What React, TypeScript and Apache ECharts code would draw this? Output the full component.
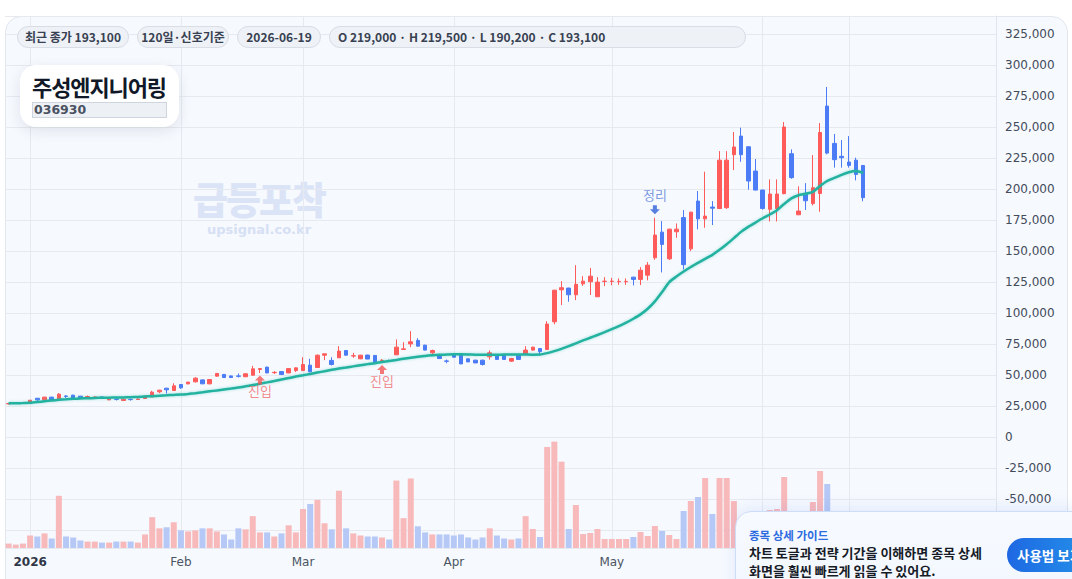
import React, { useEffect, useRef } from 'react';
import * as echarts from 'echarts';

// ---------- data ----------
const decDays = [26, 29, 30];
const janDays = [2, 5, 6, 7, 8, 9, 12, 13, 14, 15, 16, 19, 20, 21, 22, 23, 26, 27, 28, 29, 30];
const febDays = [2, 3, 4, 5, 6, 9, 10, 11, 12, 13, 19, 20, 23, 24, 25, 26, 27];
const marDays = [3, 4, 5, 6, 9, 10, 11, 12, 13, 16, 17, 18, 19, 20, 23, 24, 25, 26, 27, 30, 31];
const aprDays = [1, 2, 3, 6, 7, 8, 9, 10, 13, 14, 15, 16, 17, 20, 21, 22, 23, 24, 27, 28, 29, 30];
const mayDays = [1, 4, 5, 6, 7, 8, 11, 12, 13, 14, 15, 18, 19, 20, 21, 22, 25, 26, 27, 28, 29];
const junDays = [1, 2, 3, 4, 5, 8, 9, 10, 11, 12, 15, 16, 17, 18, 19];

const two = (n: number) => (n < 10 ? '0' + n : '' + n);
const tradingDates: string[] = [
  ...decDays.map((d) => `2025-12-${two(d)}`),
  ...janDays.map((d) => `2026-01-${two(d)}`),
  ...febDays.map((d) => `2026-02-${two(d)}`),
  ...marDays.map((d) => `2026-03-${two(d)}`),
  ...aprDays.map((d) => `2026-04-${two(d)}`),
  ...mayDays.map((d) => `2026-05-${two(d)}`),
  ...junDays.map((d) => `2026-06-${two(d)}`),
];
const emptySlots = 18;

// tick labels on the date axis (the June one lies under the guide box)
const tickLabels: Record<string, string> = {
  '2026-01-02': '2026',
  '2026-02-02': 'Feb',
  '2026-03-03': 'Mar',
  '2026-04-01': 'Apr',
  '2026-05-01': 'May',
};
const extraGridDates = ['2026-06-01', '2026-06-17'];

// [open, high, low, close]
const ohlc: [number, number, number, number][] = [
  [26900, 27400, 26400, 27100], [27200, 27700, 27000, 27500], [27300, 27800, 27100, 27600],
  [27200, 30000, 27000, 29800], [31400, 31600, 29000, 30100], [30100, 32600, 30000, 32300],
  [32300, 32500, 29600, 29800], [30900, 35500, 30600, 34700], [33200, 33900, 31700, 32900],
  [33900, 34200, 31500, 31700], [33100, 33300, 31200, 31400], [31700, 33600, 31500, 32800],
  [31700, 32800, 31500, 32500], [32500, 32700, 31500, 31700], [30100, 30800, 29900, 30600],
  [30700, 31200, 29600, 30500], [29600, 30800, 29400, 30600], [30500, 31000, 29500, 30300],
  [30400, 31000, 30200, 30800], [31200, 33400, 31000, 33100], [32500, 37400, 32300, 36300],
  [36600, 38200, 35500, 37900], [39500, 39800, 35200, 38200], [37600, 43500, 37300, 41400],
  [42500, 42800, 39000, 39800], [43000, 44600, 42600, 44400], [44600, 48400, 44200, 47600],
  [46200, 46500, 42800, 43000], [43000, 46800, 42600, 46500], [49200, 51600, 48900, 51400],
  [50600, 50800, 48000, 48100], [49400, 49600, 48000, 48100], [49400, 51300, 48100, 49100],
  [48700, 51300, 48500, 51100], [50000, 57500, 49800, 55100], [54600, 55500, 51800, 55300],
  [56500, 56700, 51600, 51800], [52000, 53200, 51000, 52300], [52900, 53100, 50300, 50500],
  [51800, 55600, 51600, 55300], [53700, 56300, 52500, 55900], [53700, 64500, 53500, 58600],
  [58100, 63200, 52400, 52700], [56200, 66700, 56000, 66100], [66100, 67400, 62100, 67200],
  [61900, 64400, 57800, 58600], [64000, 73400, 63800, 69400], [69900, 70200, 65800, 66100],
  [65400, 68000, 64000, 65700], [63200, 66400, 62900, 66100], [66200, 66500, 62800, 63000],
  [65900, 66200, 59600, 59900], [61700, 63000, 60200, 62000], [61800, 62500, 60800, 61500],
  [66400, 78800, 66200, 72600], [70700, 76600, 70500, 71200], [75200, 85500, 72600, 76900],
  [78000, 79800, 73200, 73400], [74200, 74500, 70000, 70200], [68000, 70600, 66600, 69900],
  [66100, 66400, 63200, 63400], [61500, 62600, 59600, 61200], [66700, 67000, 64300, 64500],
  [66700, 67000, 58900, 59100], [63200, 63500, 60500, 60700], [62100, 62400, 59700, 59900],
  [62100, 62400, 57800, 58600], [64800, 70000, 62500, 68000], [65900, 66200, 62500, 62700],
  [65900, 66200, 62500, 62700], [61300, 64000, 60700, 63400], [65900, 66200, 62500, 62700],
  [67500, 73400, 67200, 70200], [70200, 73000, 69900, 72600], [71500, 71800, 66000, 69000],
  [70700, 93500, 70400, 91200], [93000, 118800, 91000, 118500], [118800, 125800, 106500, 120500],
  [120200, 120500, 109200, 114800], [114800, 138700, 110500, 123200], [123600, 129800, 122000, 125800],
  [125300, 136400, 114600, 129800], [113200, 129000, 113000, 125000], [125500, 129000, 121800, 125800],
  [125500, 128500, 122500, 125800], [125300, 128000, 122800, 125600], [125300, 128000, 122800, 125600],
  [129000, 129300, 122300, 127200], [127200, 137100, 122600, 134600], [130600, 141100, 126400, 138700],
  [144600, 176900, 143000, 162900], [165300, 174200, 132800, 155400], [143800, 168000, 142800, 167700],
  [165600, 172300, 160700, 167700], [177000, 183100, 135200, 139100], [151800, 181700, 150000, 181400],
  [190300, 198400, 167500, 176000], [176000, 214000, 168800, 178200], [185500, 190300, 171000, 184600],
  [184300, 230600, 184000, 223300], [185000, 230600, 184000, 223300], [227700, 246000, 215300, 233900],
  [242700, 249500, 222000, 227700], [234100, 234500, 199500, 206500], [214500, 224200, 199000, 199200],
  [199200, 199500, 183500, 184300], [183700, 207800, 173900, 196000], [184300, 207800, 173900, 196000],
  [196300, 254000, 195800, 250000], [228500, 232000, 208300, 209200], [179300, 202200, 179000, 182300],
  [196600, 204800, 183100, 190600], [188300, 227400, 186800, 201100], [196400, 253200, 181700, 245600],
  [266900, 282300, 228000, 229000], [236800, 244400, 217300, 223700], [226400, 239500, 217300, 225300],
  [221800, 242700, 217300, 219100], [223300, 225300, 207000, 211800], [219000, 219500, 190200, 193100],
];

// volume in thousand shares
const volumesK = [
  88, 68, 88, 250, 230, 292, 190, 1044, 230, 210,
  150, 129, 129, 108, 108, 129, 129, 129, 108, 271,
  617, 393, 414, 515, 353, 332, 353, 393, 393, 332,
  271, 170, 393, 373, 637, 312, 312, 230, 292, 454,
  312, 780, 881, 963, 495, 373, 1146, 393, 292, 250,
  230, 230, 210, 170, 1349, 597, 1390, 434, 312, 271,
  271, 271, 250, 271, 210, 170, 210, 393, 250, 190,
  170, 190, 637, 380, 220, 2020, 2127, 1727, 380, 860,
  280, 300, 380, 180, 180, 180, 180, 220, 320, 240,
  440, 340, 260, 180, 740, 940, 1020, 1400, 680, 1400,
  1400, 940, 600, 560, 500, 450, 760, 780, 1420, 600,
  400, 380, 920, 1540, 1280, 650, 400, 380, 420, 600,
];

// moving-average line (won)
const maLine = [
  27300, 27400, 27500, 27700, 28300, 29000, 29600, 30100, 30500, 30900,
  31200, 31400, 31600, 31800, 31900, 32000, 32100, 32300, 32500, 32800,
  33100, 33500, 33800, 34100, 34400, 34900, 35500, 36200, 37000, 37700,
  38500, 39200, 40000, 41000, 42000, 43100, 44200, 45300, 46500, 47700,
  48900, 49900, 51000, 52100, 53200, 54300, 55300, 56200, 57100, 58000,
  58900, 59700, 60700, 61500, 62300, 63200, 64000, 64800, 65500, 66000,
  66400, 66600, 66800, 66800, 66700, 66500, 66400, 66400, 66500, 66600,
  66700, 66700, 66600, 66500, 66600, 67800, 69400, 71200, 73400, 75700,
  78000, 80200, 82400, 84700, 87100, 89500, 92300, 95500, 99000, 103500,
  109500, 117000, 125000, 129500, 133500, 137200, 140500, 143800, 147000, 151000,
  155500, 160500, 165500, 169500, 173000, 176500, 179500, 183000, 188000, 192500,
  195000, 196200, 197800, 202500, 206500, 209000, 211500, 213500, 214500, 213000,
];

const entrySignals = [35, 52];
const exitSignals = [90];

const pills = [
  { text: '최근 종가 193,100', left: 17, width: 112 },
  { text: '120일·신호기준', left: 137, width: 92 },
  { text: '2026-06-19', left: 237, width: 84 },
  { text: 'O 219,000 · H 219,500 · L 190,200 · C 193,100', left: 329, width: 417, alignLeft: true },
];

const stockName = '주성엔지니어링';
const stockCode = '036930';

// ---------- styles ----------
const UP = '#ff5b5b';
const DOWN = '#4b7cf6';
const UP_VOL = '#f8b9bb';
const DOWN_VOL = '#b6c8f5';
const GRID = '#e6eaf0';
const KR = "'Noto Sans CJK KR', 'Noto Sans', sans-serif";

const arrowUp = 'path://M5,0 L10,5.5 L7,5.5 L7,10 L3,10 L3,5.5 L0,5.5 Z';
const arrowDown = 'path://M3,0 L7,0 L7,4.5 L10,4.5 L5,10 L0,4.5 L3,4.5 Z';

const fmt = (v: number) => v.toLocaleString('en-US');

function buildOption() {
  const categories = [
    ...tradingDates,
    ...Array.from({ length: emptySlots }, (_, k) => `slot-${k}`),
  ];
  const gridDates = [...Object.keys(tickLabels), ...extraGridDates];
  return {
    animation: false,
    textStyle: { fontFamily: "'DejaVu Sans', sans-serif" },
    grid: { left: 5, right: 76, top: 16, bottom: 31, containLabel: false, outerBoundsMode: 'none' },
    xAxis: {
      type: 'category',
      data: categories,
      boundaryGap: true,
      axisLine: { show: false },
      axisTick: { show: false },
      splitLine: { show: false },
      axisLabel: {
        interval: (_i: number, v: string) => tickLabels[v] !== undefined,
        formatter: (v: string) => {
          const t = tickLabels[v];
          if (t === undefined) return '';
          return /^\d{4}$/.test(t) ? `{y|${t}}` : t;
        },
        color: '#4b5563',
        fontSize: 12,
        margin: 8,
        rich: { y: { fontWeight: 'bold', color: '#2f3747', fontSize: 12 } },
      },
    },
    yAxis: [
      {
        type: 'value',
        position: 'right',
        min: -89300,
        max: 339500,
        minInterval: 25000,
        maxInterval: 25000,
        splitNumber: 17,
        axisLine: { show: true, lineStyle: { color: '#e1e6ee' } },
        axisTick: { show: false },
        axisLabel: {
          color: '#434b5b',
          fontSize: 12,
          margin: 9,
          formatter: (v: number) => (Math.abs(v % 25000) < 1e-6 ? fmt(v) : ''),
        },
        splitLine: { show: true, lineStyle: { color: GRID, width: 1 } },
      },
      { type: 'value', show: false, min: 0, max: 10640, splitLine: { show: false } },
    ],
    series: [
      {
        type: 'bar',
        name: '거래량',
        xAxisIndex: 0,
        yAxisIndex: 1,
        barWidth: 6,
        silent: true,
        z: 2,
        data: volumesK.map((v, i) => ({
          value: v,
          itemStyle: { color: ohlc[i][3] >= ohlc[i][0] ? UP_VOL : DOWN_VOL },
        })),
        markLine: {
          silent: true,
          z: 0,
          symbol: ['none', 'none'],
          label: { show: false },
          emphasis: { disabled: true },
          lineStyle: { color: GRID, width: 1, type: 'solid' },
          data: gridDates.map((d) => ({ xAxis: d })),
        },
      },
      {
        type: 'candlestick',
        name: '주가',
        z: 3,
        barWidth: 4,
        data: ohlc.map(([o, h, l, c]) => [o, c, l, h]),
        itemStyle: {
          color: UP,
          color0: DOWN,
          borderColor: UP,
          borderColor0: DOWN,
          borderWidth: 1,
        },
      },
      {
        type: 'line',
        name: '이동평균',
        z: 4,
        data: maLine,
        symbol: 'none',
        smooth: 0.2,
        lineStyle: {
          color: '#21b29f',
          width: 2.5,
          shadowColor: 'rgba(33,178,159,0.35)',
          shadowBlur: 3,
        },
      },
      {
        type: 'scatter',
        name: '진입',
        z: 5,
        symbol: arrowUp,
        symbolSize: [10, 9],
        symbolOffset: [0, 7],
        itemStyle: { color: '#f25656' },
        label: {
          show: true,
          position: 'bottom',
          distance: 0,
          formatter: '진입',
          color: '#f06d70',
          fontSize: 13,
          fontFamily: KR,
        },
        data: entrySignals.map((i) => [i, ohlc[i][2]]),
      },
      {
        type: 'scatter',
        name: '정리',
        z: 5,
        symbol: arrowDown,
        symbolSize: [10, 9],
        symbolOffset: [0, -8],
        itemStyle: { color: '#2f5fd9' },
        label: {
          show: true,
          position: 'top',
          distance: 4,
          formatter: '정리',
          color: '#5a7fd6',
          fontSize: 13,
          fontFamily: KR,
        },
        data: exitSignals.map((i) => [i, ohlc[i][1]]),
      },
    ],
  };
}

function Chart() {
  const ref = useRef<HTMLDivElement>(null);
  useEffect(() => {
    if (!ref.current) return;
    const chart = echarts.init(ref.current, null, { renderer: 'svg' });
    chart.setOption(buildOption() as any);
    return () => chart.dispose();
  }, []);
  return <div ref={ref} style={{ position: 'absolute', left: 0, top: 0, width: 1072, height: 579 }} />;
}

export default function App() {
  useEffect(() => {
    document.body.style.margin = '0';
  }, []);
  return (
    <div
      style={{
        position: 'fixed',
        left: 0,
        top: 0,
        width: 1072,
        height: 579,
        overflow: 'hidden',
        background: '#ffffff',
        fontFamily: KR,
      }}
    >
      {/* card */}
      <div
        style={{
          position: 'absolute',
          left: 5,
          top: 16,
          width: 1063,
          height: 640,
          borderRadius: 16,
          border: '1px solid #e2e7ef',
          background: '#f6f9fe',
          boxSizing: 'border-box',
        }}
      />
      {/* watermark */}
      <div
        style={{
          position: 'absolute',
          left: 193,
          top: 179,
          fontSize: 38,
          lineHeight: '38px',
          fontWeight: 800,
          letterSpacing: -2,
          color: '#dae4f6',
          whiteSpace: 'nowrap',
        }}
      >
        급등포착
      </div>
      <div
        style={{
          position: 'absolute',
          left: 207,
          top: 223,
          fontSize: 13,
          lineHeight: '14px',
          fontWeight: 700,
          fontFamily: "'DejaVu Sans', sans-serif",
          color: '#d6e0f4',
          whiteSpace: 'nowrap',
        }}
      >
        upsignal.co.kr
      </div>
      <Chart />
      {/* pills */}
      {pills.map((p) => (
        <div
          key={p.text}
          style={{
            position: 'absolute',
            left: p.left,
            top: 26,
            width: p.width,
            height: 22,
            boxSizing: 'border-box',
            borderRadius: 11,
            border: '1px solid #d8dde6',
            background: '#eef1f6',
            color: '#384152',
            fontSize: 12,
            fontWeight: 700,
            lineHeight: '20px',
            textAlign: p.alignLeft ? 'left' : 'center',
            paddingLeft: p.alignLeft ? 8 : 0,
            whiteSpace: 'nowrap',
          }}
        >
          {p.text}
        </div>
      ))}
      {/* title card */}
      <div
        style={{
          position: 'absolute',
          left: 20,
          top: 65,
          width: 159,
          height: 62,
          borderRadius: 16,
          background: '#ffffff',
          boxShadow: '0 4px 14px rgba(30,41,59,0.10)',
        }}
      >
        <div
          style={{
            position: 'absolute',
            left: 12,
            top: 8,
            fontSize: 22,
            lineHeight: '26px',
            fontWeight: 700,
            letterSpacing: -1.1,
            color: '#111827',
            whiteSpace: 'nowrap',
          }}
        >
          {stockName}
        </div>
        <div
          style={{
            position: 'absolute',
            left: 12,
            top: 37,
            width: 135,
            height: 16,
            boxSizing: 'border-box',
            background: '#edf0f5',
            border: '1px solid #cfd5de',
            fontFamily: "'DejaVu Sans', sans-serif",
            fontSize: 12.5,
            fontWeight: 700,
            lineHeight: '14px',
            color: '#4a5261',
            paddingLeft: 1,
          }}
        >
          {stockCode}
        </div>
      </div>
      {/* guide popup */}
      <div
        style={{
          position: 'absolute',
          left: 735,
          top: 511,
          width: 380,
          height: 100,
          boxSizing: 'border-box',
          borderRadius: 16,
          border: '1px solid #cddcf7',
          background: 'linear-gradient(180deg, #f7faff 0%, #f1f6ff 100%)',
          boxShadow: '0 -3px 16px rgba(37,99,235,0.10)',
        }}
      >
        <div
          style={{
            position: 'absolute',
            left: 13,
            top: 16,
            fontSize: 11.5,
            lineHeight: '14px',
            fontWeight: 700,
            color: '#2c6be0',
            whiteSpace: 'nowrap',
          }}
        >
          종목 상세 가이드
        </div>
        <div
          style={{
            position: 'absolute',
            left: 13,
            top: 32,
            fontSize: 13,
            lineHeight: '18px',
            fontWeight: 700,
            letterSpacing: 0,
            color: '#161b26',
            whiteSpace: 'nowrap',
          }}
        >
          차트 토글과 전략 기간을 이해하면 종목 상세
          <br />
          화면을 훨씬 빠르게 읽을 수 있어요.
        </div>
        <div
          style={{
            position: 'absolute',
            left: 271,
            top: 26,
            width: 120,
            height: 34,
            borderRadius: 17,
            background: 'linear-gradient(90deg, #1e68e3 0%, #27a2ea 100%)',
            color: '#ffffff',
            fontSize: 13.5,
            fontWeight: 700,
            lineHeight: '34px',
            paddingLeft: 10,
            boxSizing: 'border-box',
            whiteSpace: 'nowrap',
          }}
        >
          사용법 보기
        </div>
      </div>
    </div>
  );
}
